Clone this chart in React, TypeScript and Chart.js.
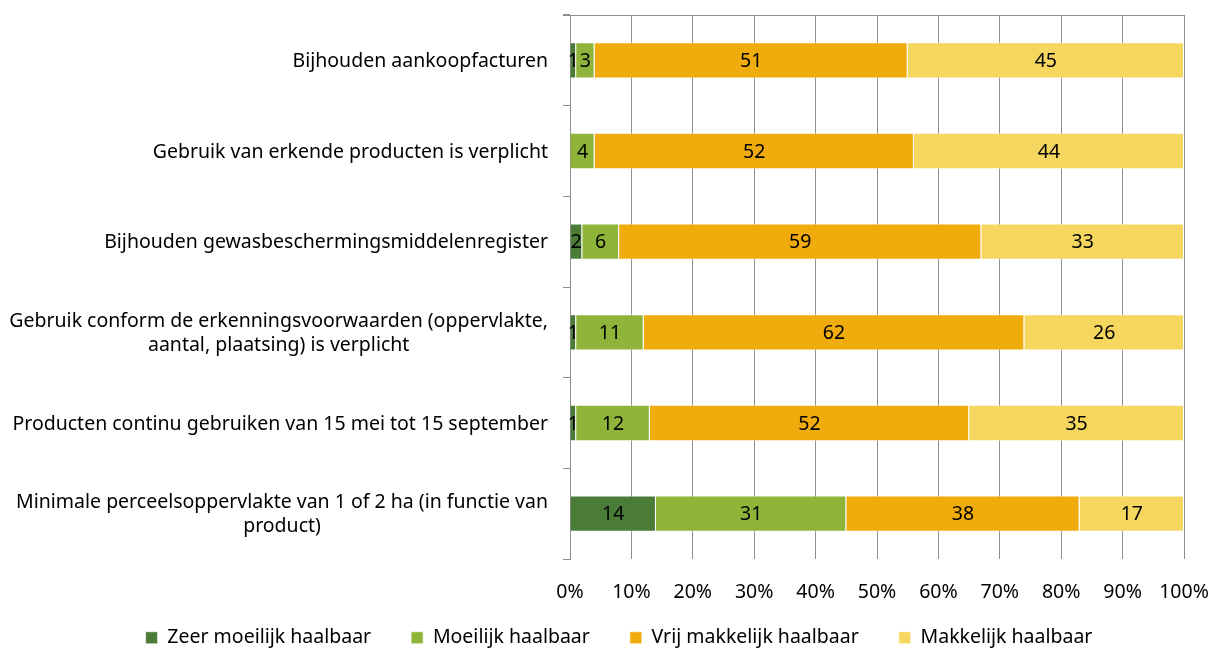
import React, { useEffect, useRef } from "react";
import { Chart, registerables } from "chart.js";

Chart.register(...registerables);

const categories: string[][] = [
  ["Bijhouden aankoopfacturen"],
  ["Gebruik van erkende producten is verplicht"],
  ["Bijhouden gewasbeschermingsmiddelenregister"],
  ["Gebruik conform de erkenningsvoorwaarden (oppervlakte,", "aantal, plaatsing) is verplicht"],
  ["Producten continu gebruiken van 15 mei tot 15 september"],
  ["Minimale perceelsoppervlakte van 1 of 2 ha (in functie van", "product)"],
];

const zeerMoeilijk = [1, 0, 2, 1, 1, 14];
const moeilijk = [3, 4, 6, 11, 12, 31];
const vrijMakkelijk = [51, 52, 59, 62, 52, 38];
const makkelijk = [45, 44, 33, 26, 35, 17];

const seriesNames = [
  "Zeer moeilijk haalbaar",
  "Moeilijk haalbaar",
  "Vrij makkelijk haalbaar",
  "Makkelijk haalbaar",
];
const seriesColors = ["#4a7c37", "#8fb43a", "#efac0c", "#f5d760"];

const FONT = "'Noto Sans', sans-serif";
const FS = 19.5;
const GRID = "#8e8e8e";

const labelPlugin = {
  id: "customLabels",
  afterLayout(chart: any) {
    const xs = chart.scales.x;
    if (xs) xs.bottom = chart.height;
  },
  afterDatasetsDraw(chart: any) {
    const ctx = chart.ctx;
    ctx.save();
    ctx.font = `${FS}px ${FONT}`;
    ctx.fillStyle = "#000";
    ctx.textAlign = "center";
    ctx.textBaseline = "middle";
    chart.data.datasets.forEach((ds: any, di: number) => {
      const meta = chart.getDatasetMeta(di);
      meta.data.forEach((bar: any, i: number) => {
        const v = ds.data[i];
        if (!v) return;
        const cx = (bar.x + bar.base) / 2;
        ctx.fillText(String(v), cx, bar.y + 1);
      });
    });
    ctx.restore();
  },
  afterDraw(chart: any) {
    const ctx = chart.ctx;
    const area = chart.chartArea;
    const yScale = chart.scales.y;
    ctx.save();
    ctx.strokeStyle = GRID;
    ctx.lineWidth = 1;
    ctx.beginPath();
    ctx.moveTo(area.left - 7, Math.round(area.top) + 0.5);
    ctx.lineTo(area.right, Math.round(area.top) + 0.5);
    ctx.stroke();
    ctx.font = `${FS}px ${FONT}`;
    ctx.fillStyle = "#000";
    ctx.textBaseline = "middle";
    ctx.textAlign = "center";
    const lh = 24;
    categories.forEach((lines, i) => {
      const y = yScale.getPixelForValue(i);
      const widths = lines.map((l) => ctx.measureText(l).width);
      const maxW = Math.max(...widths);
      const right = area.left - 22;
      const cx = right - maxW / 2;
      lines.forEach((l, k) => {
        const ly = y + (k - (lines.length - 1) / 2) * lh + 1;
        ctx.fillText(l, cx, ly);
      });
    });
    ctx.restore();
  },
};

export default function App() {
  const ref = useRef<HTMLCanvasElement>(null);
  useEffect(() => {
    if (!ref.current) return;
    const chart = new Chart(ref.current, {
      type: "bar",
      data: {
        labels: categories.map((c) => c.join(" ")),
        datasets: [zeerMoeilijk, moeilijk, vrijMakkelijk, makkelijk].map((d, i) => ({
          label: seriesNames[i],
          data: d,
          backgroundColor: seriesColors[i],
          borderColor: "rgba(255,255,255,0.6)",
          borderWidth: 1,
          categoryPercentage: 0.8,
          barPercentage: 0.5,
        })),
      },
      options: {
        indexAxis: "y",
        animation: false,
        responsive: true,
        maintainAspectRatio: false,
        layout: { padding: { left: 46, right: 24, top: 7, bottom: 0 } },
        scales: {
          x: {
            stacked: true,
            min: 0,
            max: 100,
            ticks: {
              stepSize: 10,
              callback: (v: any) => v + "%",
              font: { family: FONT, size: FS },
              color: "#000",
              padding: 22,
            },
            grid: { color: GRID, drawTicks: false },
            border: { display: false },
            afterFit: (s: any) => {
              s.height = 29;
              s.paddingLeft = 0;
              s.paddingRight = 0;
            },
          },
          y: {
            stacked: true,
            ticks: { display: false },
            grid: { drawOnChartArea: false, drawTicks: true, tickLength: 7, color: GRID },
            border: { display: true, color: GRID },
            afterFit: (s: any) => {
              s.width = 516;
            },
          },
        },
        plugins: {
          legend: {
            position: "bottom",
            maxHeight: 61,
            labels: {
              boxWidth: 12,
              boxHeight: 12,
              padding: 40,
              font: { family: FONT, size: FS },
              color: "#000",
            },
          },
          tooltip: { enabled: false },
        },
      },
      plugins: [labelPlugin],
    });
    return () => chart.destroy();
  }, []);
  return (
    <div style={{ width: 1200, height: 641 }}>
      <canvas ref={ref} />
    </div>
  );
}
